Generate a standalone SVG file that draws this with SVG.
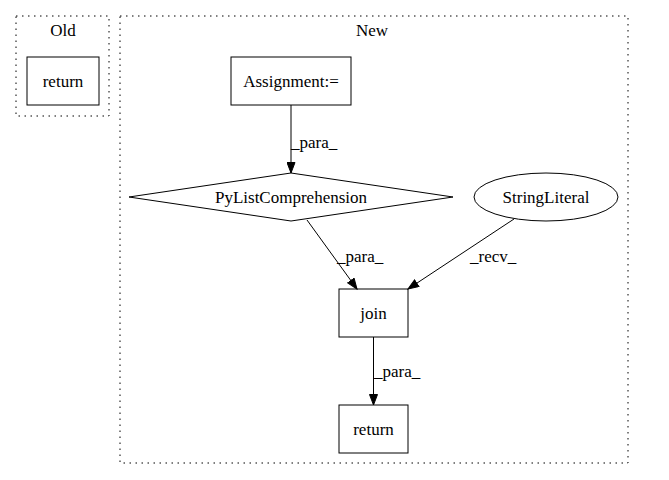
<svg xmlns="http://www.w3.org/2000/svg" width="669" height="480" viewBox="0 0 669 480">
<style>
text{font-family:"Liberation Serif","Times New Roman",serif;font-size:17px;fill:#000}
.c{text-anchor:middle}
.cl{fill:none;stroke:#000;stroke-width:1;stroke-dasharray:1.5,4.5}
.n{fill:none;stroke:#000;stroke-width:1}
.e{fill:none;stroke:#000;stroke-width:1;marker-end:url(#ah)}
</style>
<defs>
<marker id="ah" markerUnits="userSpaceOnUse" markerWidth="12" markerHeight="9" refX="11" refY="4.5" orient="auto">
<path d="M0.5,0.5 L11,4.5 L0.5,8.5 z" fill="#000" stroke="#000" stroke-width="1"/>
</marker>
</defs>
<rect width="669" height="480" fill="#fff"/>
<g id="cluster_old">
<rect class="cl" x="16" y="16" width="93" height="100"/>
<text class="c" x="63" y="36">Old</text>
</g>
<g id="cluster_new">
<rect class="cl" x="120" y="16" width="508" height="447"/>
<text class="c" x="372" y="36">New</text>
</g>
<g id="old_return">
<rect class="n" x="27" y="57" width="72" height="48"/>
<text class="c" x="63" y="87">return</text>
</g>
<g id="assignment">
<rect class="n" x="231" y="57" width="120" height="48"/>
<text class="c" x="291" y="87">Assignment:=</text>
</g>
<g id="pylistcomp">
<polygon class="n" points="291,173 453,197 291,221 129,197"/>
<text class="c" x="291" y="203">PyListComprehension</text>
</g>
<g id="stringliteral">
<ellipse class="n" cx="546" cy="197" rx="72" ry="24"/>
<text class="c" x="546" y="203">StringLiteral</text>
</g>
<g id="join">
<rect class="n" x="339" y="289" width="69" height="48"/>
<text class="c" x="373.5" y="319">join</text>
</g>
<g id="new_return">
<rect class="n" x="339" y="405" width="69" height="48"/>
<text class="c" x="373.5" y="435">return</text>
</g>
<g id="edges">
<line class="e" x1="291" y1="105" x2="291" y2="173"/>
<text x="291" y="148">_para_</text>
<line class="e" x1="307" y1="220" x2="357" y2="289"/>
<text x="337" y="262">_para_</text>
<line class="e" x1="514" y1="219" x2="408" y2="289"/>
<text x="470" y="262">_recv_</text>
<line class="e" x1="373.5" y1="337" x2="373.5" y2="405"/>
<text x="374" y="377">_para_</text>
</g>
</svg>
